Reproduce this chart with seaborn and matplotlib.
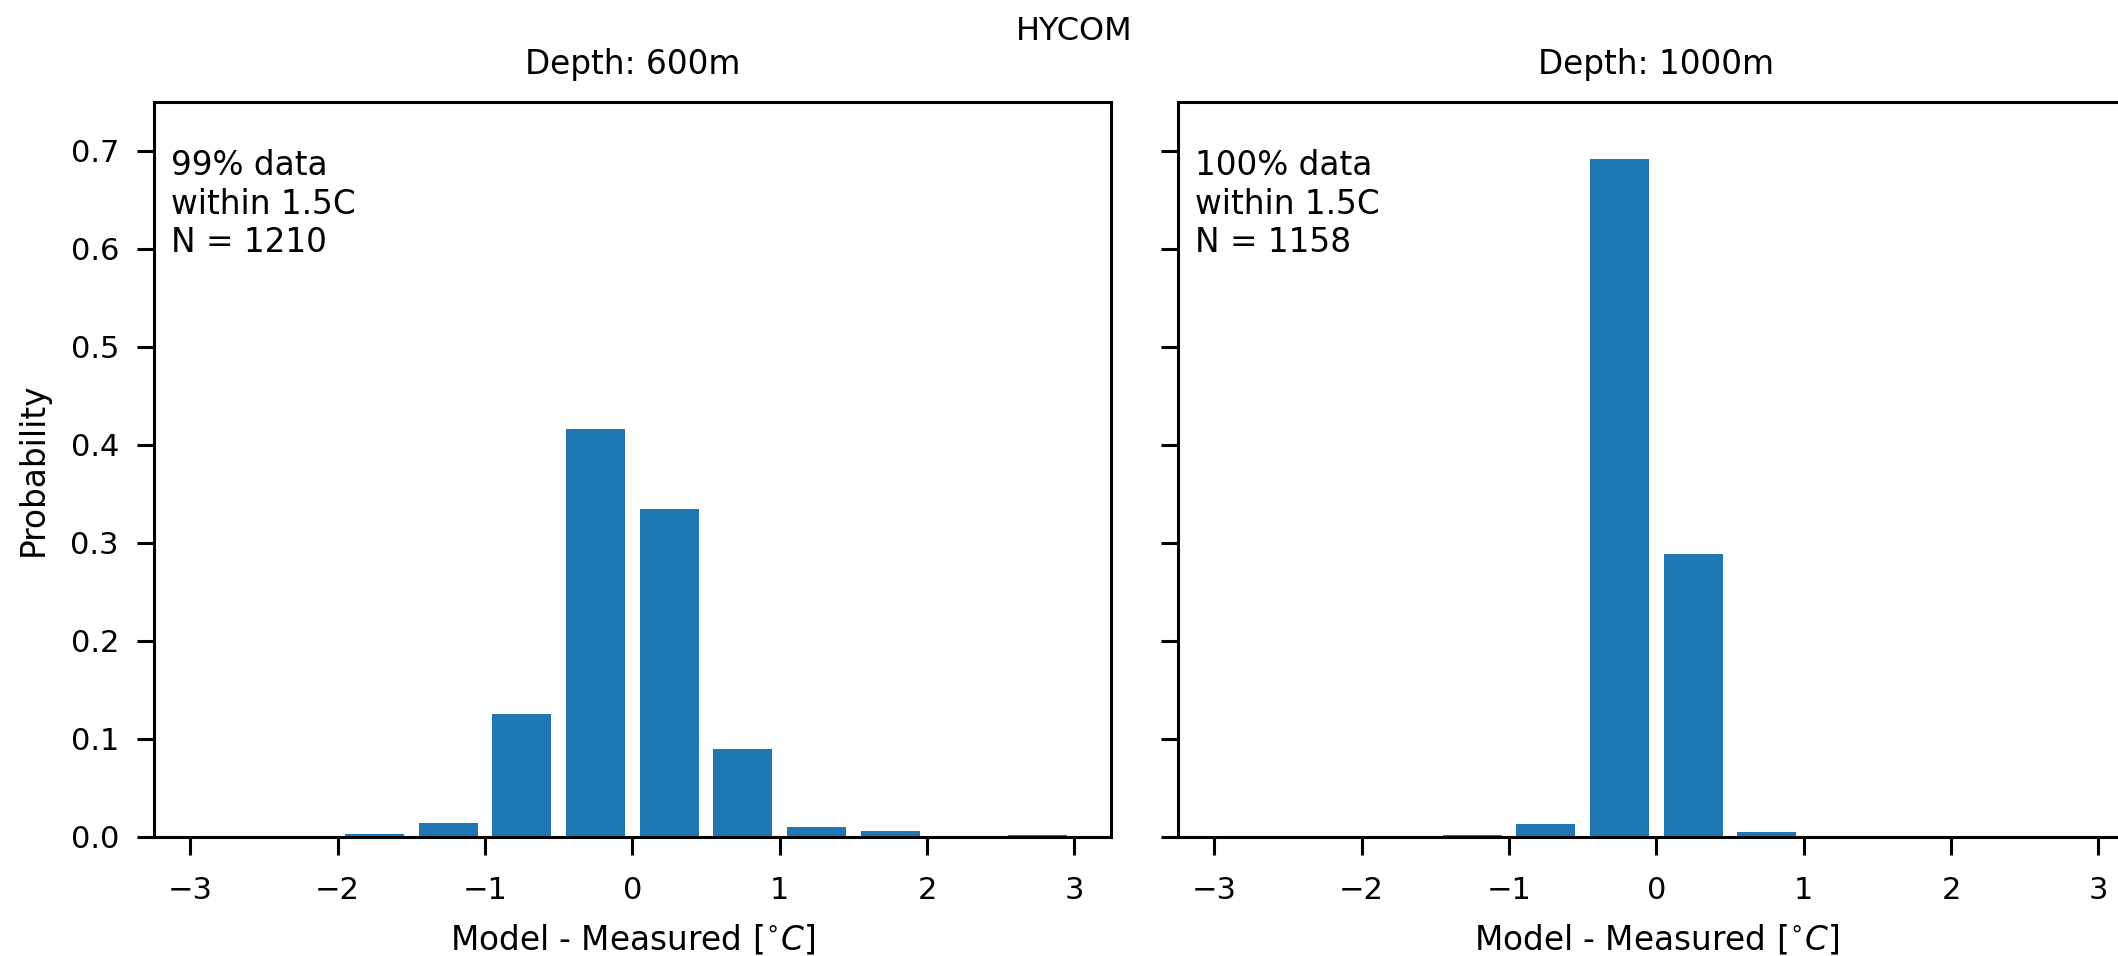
import numpy as np
import pandas as pd
import matplotlib
matplotlib.use("Agg")
import matplotlib.pyplot as plt
import seaborn as sns

# ---- data ----
bin_centers = [-2.75, -2.25, -1.75, -1.25, -0.75, -0.25, 0.25, 0.75, 1.25, 1.75, 2.25, 2.75]
bin_width = 0.5
prob_600 = [0.0, 0.0, 0.0024, 0.0137, 0.125, 0.416, 0.334, 0.089, 0.0103, 0.006, 0.0, 0.0014]
prob_1000 = [0.0, 0.0, 0.0, 0.0017, 0.0127, 0.6917, 0.2886, 0.005, 0.0, 0.0, 0.0, 0.0]
titles = ["Depth: 600m", "Depth: 1000m"]
notes = ["99% data\nwithin 1.5C\nN = 1210", "100% data\nwithin 1.5C\nN = 1158"]
yticks = [0.0, 0.1, 0.2, 0.3, 0.4, 0.5, 0.6, 0.7]
xticks = [-3, -2, -1, 0, 1, 2, 3]
suptitle = "HYCOM"
xlabel = r"Model - Measured [$^{\circ}C$]"
ylabel = "Probability"

sns.set_style("ticks")
plt.rcParams.update({
    "font.family": ["DejaVu Sans"],
    "text.color": "black",
    "axes.labelcolor": "black",
    "axes.edgecolor": "black",
    "xtick.color": "black",
    "ytick.color": "black",
    "axes.linewidth": 1.1,
    "xtick.major.size": 6.3,
    "ytick.major.size": 6.0,
    "xtick.major.width": 1.1,
    "ytick.major.width": 1.1,
    "xtick.major.pad": 8.0,
    "ytick.major.pad": 6.6,
    "xtick.labelsize": 11.0,
    "ytick.labelsize": 11.0,
})

W, H, DPI = 2118, 956, 200
FS = 11.8
fig = plt.figure(figsize=(W / DPI, H / DPI), dpi=DPI)
bottom = (H - 836.7) / H
height = 735 / H
width = 956.6 / W
ax1 = fig.add_axes([154 / W, bottom, width, height])
ax2 = fig.add_axes([1178 / W, bottom, width, height], sharey=ax1)

lo = bin_centers[0] - bin_width / 2
hi = bin_centers[-1] + bin_width / 2

for ax, probs, title, note in zip([ax1, ax2], [prob_600, prob_1000], titles, notes):
    df = pd.DataFrame({"diff": bin_centers, "prob": probs})
    sns.histplot(data=df, x="diff", weights="prob", binwidth=bin_width,
                 binrange=(lo, hi), shrink=0.8,
                 stat="count", color="#1f77b4", alpha=1, linewidth=0, ax=ax)
    ax.set_xlim(-3.245, 3.245)
    ax.set_ylim(0, 0.75)
    ax.set_xticks(xticks)
    ax.set_yticks(yticks)
    ax.set_title(title, fontsize=FS, pad=10)
    ax.set_xlabel(xlabel, fontsize=FS)
    ax.xaxis.set_label_coords(0.5, -0.1174)
    ax.set_ylabel("")
    ax.text(0.018, 0.935, note, transform=ax.transAxes, ha="left", va="top",
            fontsize=FS, linespacing=1.2)
    for s in ax.spines.values():
        s.set_visible(True)
        s.set_linewidth(1.1)
        s.set_color("black")

ax1.set_ylabel(ylabel, fontsize=FS)
ax1.yaxis.set_label_coords(-0.109, 0.5)
plt.setp(ax2.get_yticklabels(), visible=False)

fig.text(1074 / W, (H - 40) / H, suptitle, ha="center", va="baseline", fontsize=11.5)

fig.savefig("out.png", dpi=DPI)
